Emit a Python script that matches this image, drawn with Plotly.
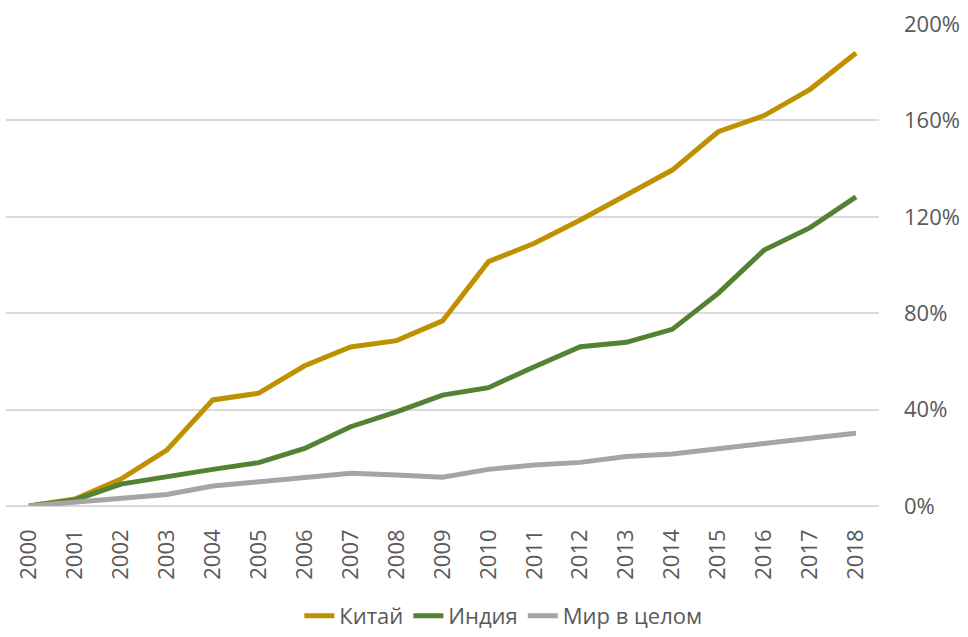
import plotly.graph_objects as go

years = [str(y) for y in range(2000, 2019)]

china = [0, 2.9, 11.2, 23.2, 44.0, 46.8, 58.2, 66.0, 68.6, 76.8,
         101.4, 109.0, 118.7, 129.0, 139.4, 155.3, 162.0, 172.9, 188.0]
india = [0, 2.5, 9.1, 12.4, 15.2, 18.0, 23.9, 32.9, 39.1, 46.0,
         49.1, 57.8, 66.1, 67.9, 73.3, 88.2, 106.2, 115.5, 128.3]
world = [0, 1.5, 2.8, 4.8, 8.3, 10.1, 11.8, 13.6, 12.9, 11.9,
         15.2, 17.0, 18.1, 20.5, 21.6, 23.9, 26.0, 28.1, 30.2]

series_names = ["Китай", "Индия", "Мир в целом"]
series_colors = ["#BF9000", "#548235", "#A5A5A5"]
y_ticks = [0, 40, 80, 120, 160, 200]

text_color = "#595959"
grid_color = "#D9D9D9"
font_family = "Open Sans"

fig = go.Figure()
for name, vals, col in zip(series_names, [china, india, world], series_colors):
    fig.add_trace(go.Scatter(
        x=years, y=vals, name=name, mode="lines",
        line=dict(color=col, width=5, shape="linear"),
    ))

fig.update_layout(
    width=968, height=637,
    margin=dict(l=6, r=89, t=24, b=131),
    paper_bgcolor="white", plot_bgcolor="white",
    font=dict(family=font_family, size=22, color=text_color),
    showlegend=True,
    legend=dict(
        orientation="h", xref="container", yref="container",
        x=0.52, xanchor="center", y=-0.02, yanchor="bottom",
        font=dict(size=22, color=text_color),
        itemwidth=30, tracegroupgap=0,
    ),
    xaxis=dict(
        type="category", range=[-0.5, len(years) - 0.5],
        tickangle=-90, showgrid=False, zeroline=False,
        showline=False, ticks="", ticklabelstandoff=18,
        tickfont=dict(size=22, color=text_color),
    ),
    yaxis=dict(
        side="right", range=[0, 200], tickvals=y_ticks,
        ticktext=[f"{v}%" for v in y_ticks],
        showgrid=True, gridcolor=grid_color, gridwidth=1.5,
        zeroline=True, zerolinecolor=grid_color, zerolinewidth=1.5,
        showline=False, ticks="", ticklabelstandoff=24,
        tickfont=dict(size=22, color=text_color),
    ),
)

fig.write_html("out.html")
